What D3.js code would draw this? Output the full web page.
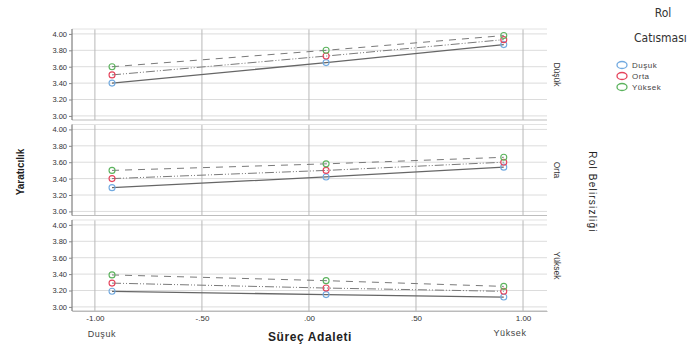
<!DOCTYPE html>
<html>
<head>
<meta charset="utf-8">
<script src="https://cdn.jsdelivr.net/npm/d3@7"></script>
<style>
  body { margin: 0; background: #fff; }
  svg { display: block; font-family: 'Liberation Sans', Arial, sans-serif; }
</style>
</head>
<body>
<script>
// Data
const panels = ['Düşük', 'Orta', 'Yüksek'];          // Rol Belirsizliği
const groups = ['Duşuk', 'Orta', 'Yüksek'];          // Rol Catısması
const xValues = [-0.92, 0.08, 0.91];                 // Süreç Adaleti
const xTicks = [-1, -0.5, 0, 0.5, 1];
const xTickLabels = ['-1.00', '-.50', '.00', '.50', '1.00'];
const yTicks = [3.0, 3.2, 3.4, 3.6, 3.8, 4.0];

// values[panel][group] -> one per x value
const panelDusuk = [
  [3.40, 3.65, 3.87],
  [3.50, 3.73, 3.93],
  [3.60, 3.80, 3.98]
];
const panelOrta = [
  [3.29, 3.42, 3.54],
  [3.40, 3.50, 3.60],
  [3.50, 3.58, 3.66]
];
const panelYuksek = [
  [3.19, 3.15, 3.12],
  [3.29, 3.23, 3.19],
  [3.39, 3.32, 3.25]
];
const values = [panelDusuk, panelOrta, panelYuksek];

const colors = ['#72aae0', '#e5435b', '#5cb35e'];
const dashes = [null, '9,2,1,2,1,2', '7,6'];

const width = 689;
const height = 354;

const svg = d3.select('body')
  .append('svg')
  .attr('width', width)
  .attr('height', height);

const x = d3.scaleLinear()
  .domain([-1.107, 1.112])
  .range([72, 547]);

const panelBand = d3.scaleBand()
  .domain(panels)
  .range([29, 311])
  .paddingInner(0.047);

const line = d3.line();

panels.forEach((p, pi) => {
  const top = panelBand(p);
  const y = d3.scaleLinear()
    .domain([2.95, 4.06])
    .range([top + panelBand.bandwidth(), top]);

  const g = svg.append('g').attr('class', 'panel');

  // horizontal grid
  g.selectAll('.hgrid')
    .data(yTicks)
    .enter().append('line')
    .attr('x1', x.range()[0])
    .attr('x2', x.range()[1])
    .attr('y1', d => y(d))
    .attr('y2', d => y(d))
    .attr('stroke', '#dcdcdc')
    .attr('stroke-width', 1);

  // vertical grid
  g.selectAll('.vgrid')
    .data(xTicks)
    .enter().append('line')
    .attr('x1', d => x(d))
    .attr('x2', d => x(d))
    .attr('y1', top)
    .attr('y2', top + panelBand.bandwidth())
    .attr('stroke', '#b8b8b8')
    .attr('stroke-width', 1);

  // panel frame top / bottom
  g.append('line')
    .attr('x1', x.range()[0]).attr('x2', x.range()[1])
    .attr('y1', top + panelBand.bandwidth()).attr('y2', top + panelBand.bandwidth())
    .attr('stroke', '#bdbdbd');
  g.append('line')
    .attr('x1', x.range()[0]).attr('x2', x.range()[1])
    .attr('y1', top).attr('y2', top)
    .attr('stroke', '#e2e2e2');

  // y axis
  const yAxis = d3.axisLeft(y)
    .tickValues(yTicks)
    .tickSize(3)
    .tickFormat(d3.format('.2f'));
  const ya = g.append('g')
    .attr('transform', `translate(${x.range()[0]},0)`)
    .call(yAxis);
  ya.select('.domain').attr('stroke', '#666').attr('d', `M-0,${top}V${top + panelBand.bandwidth()}`);
  ya.selectAll('.tick line').attr('stroke', '#888');
  ya.selectAll('.tick text')
    .attr('x', -5)
    .attr('fill', '#333')
    .style('font-size', '7.5px')
    .style('font-family', 'Liberation Sans, Arial, sans-serif');

  // lines per group
  values[pi].forEach((vals, gi) => {
    g.append('path')
      .attr('d', line(vals.map((v, i) => [x(xValues[i]), y(v)])))
      .attr('fill', 'none')
      .attr('stroke', gi === 0 ? '#666' : '#7a7a7a')
      .attr('stroke-width', gi === 0 ? 1.3 : 1)
      .attr('stroke-dasharray', dashes[gi]);
  });

  values[pi].forEach((vals, gi) => {
    g.selectAll('.pt' + gi)
      .data(vals)
      .enter().append('circle')
      .attr('cx', (d, i) => x(xValues[i]))
      .attr('cy', d => y(d))
      .attr('r', 3)
      .attr('fill', 'none')
      .attr('stroke', colors[gi])
      .attr('stroke-width', 1.1);
  });

  // panel strip label
  const cy = top + panelBand.bandwidth() / 2;
  g.append('text')
    .attr('transform', `translate(554,${cy}) rotate(90)`)
    .attr('text-anchor', 'middle')
    .attr('fill', '#333')
    .style('font-size', '8.5px')
    .text(p);
});

// x axis
const xAxis = d3.axisBottom(x)
  .tickValues(xTicks)
  .tickSize(0)
  .tickFormat((d, i) => xTickLabels[i]);
const xa = svg.append('g')
  .attr('transform', 'translate(0,311)')
  .call(xAxis);
xa.select('.domain').attr('stroke', '#bbb');
xa.selectAll('.tick text')
  .attr('y', 4)
  .attr('fill', '#333')
  .style('font-size', '8px')
  .style('font-family', 'Liberation Sans, Arial, sans-serif');

svg.append('text')
  .attr('x', x(-1) + 7)
  .attr('y', 337)
  .attr('text-anchor', 'middle')
  .attr('fill', '#444')
  .style('font-size', '9px')
  .style('letter-spacing', '0.6px')
  .text('Duşuk');
svg.append('text')
  .attr('x', x(1) - 13)
  .attr('y', 336)
  .attr('text-anchor', 'middle')
  .attr('fill', '#444')
  .style('font-size', '9px')
  .style('letter-spacing', '0.6px')
  .text('Yüksek');

// axis titles
svg.append('text')
  .attr('x', 310)
  .attr('y', 341)
  .attr('text-anchor', 'middle')
  .attr('fill', '#222')
  .style('font-size', '12px')
  .style('font-weight', 'bold')
  .style('letter-spacing', '0.6px')
  .text('Süreç Adaleti');

svg.append('text')
  .attr('transform', 'translate(24,172) rotate(-90)')
  .attr('text-anchor', 'middle')
  .attr('fill', '#222')
  .style('font-size', '10px')
  .style('font-weight', 'bold')
  .text('Yaratıcılık');

svg.append('text')
  .attr('transform', 'translate(589,192) rotate(90)')
  .attr('text-anchor', 'middle')
  .attr('fill', '#222')
  .style('font-size', '10px')
  .style('letter-spacing', '1.2px')
  .text('Rol Belirsizliği');

// legend
svg.append('text')
  .attr('x', 663)
  .attr('y', 17)
  .attr('text-anchor', 'middle')
  .attr('fill', '#333')
  .style('font-size', '12px')
  .style('font-family', 'DejaVu Sans Condensed, Liberation Sans Narrow, sans-serif')
  .text('Rol');
svg.append('text')
  .attr('x', 634)
  .attr('y', 42)
  .attr('fill', '#333')
  .style('font-size', '12px')
  .style('font-family', 'DejaVu Sans Condensed, Liberation Sans Narrow, sans-serif')
  .text('Catısması');

const legend = svg.selectAll('.legend')
  .data(groups)
  .enter().append('g')
  .attr('class', 'legend')
  .attr('transform', (d, i) => `translate(622,${65 + i * 11})`);
legend.append('ellipse')
  .attr('rx', 5)
  .attr('ry', 3.5)
  .attr('fill', 'none')
  .attr('stroke', (d, i) => colors[i])
  .attr('stroke-width', 1.3);
legend.append('text')
  .attr('x', 10)
  .attr('dy', '0.33em')
  .attr('fill', '#444')
  .style('font-size', '8px')
  .style('letter-spacing', '0.5px')
  .text(d => d);
</script>
</body>
</html>
